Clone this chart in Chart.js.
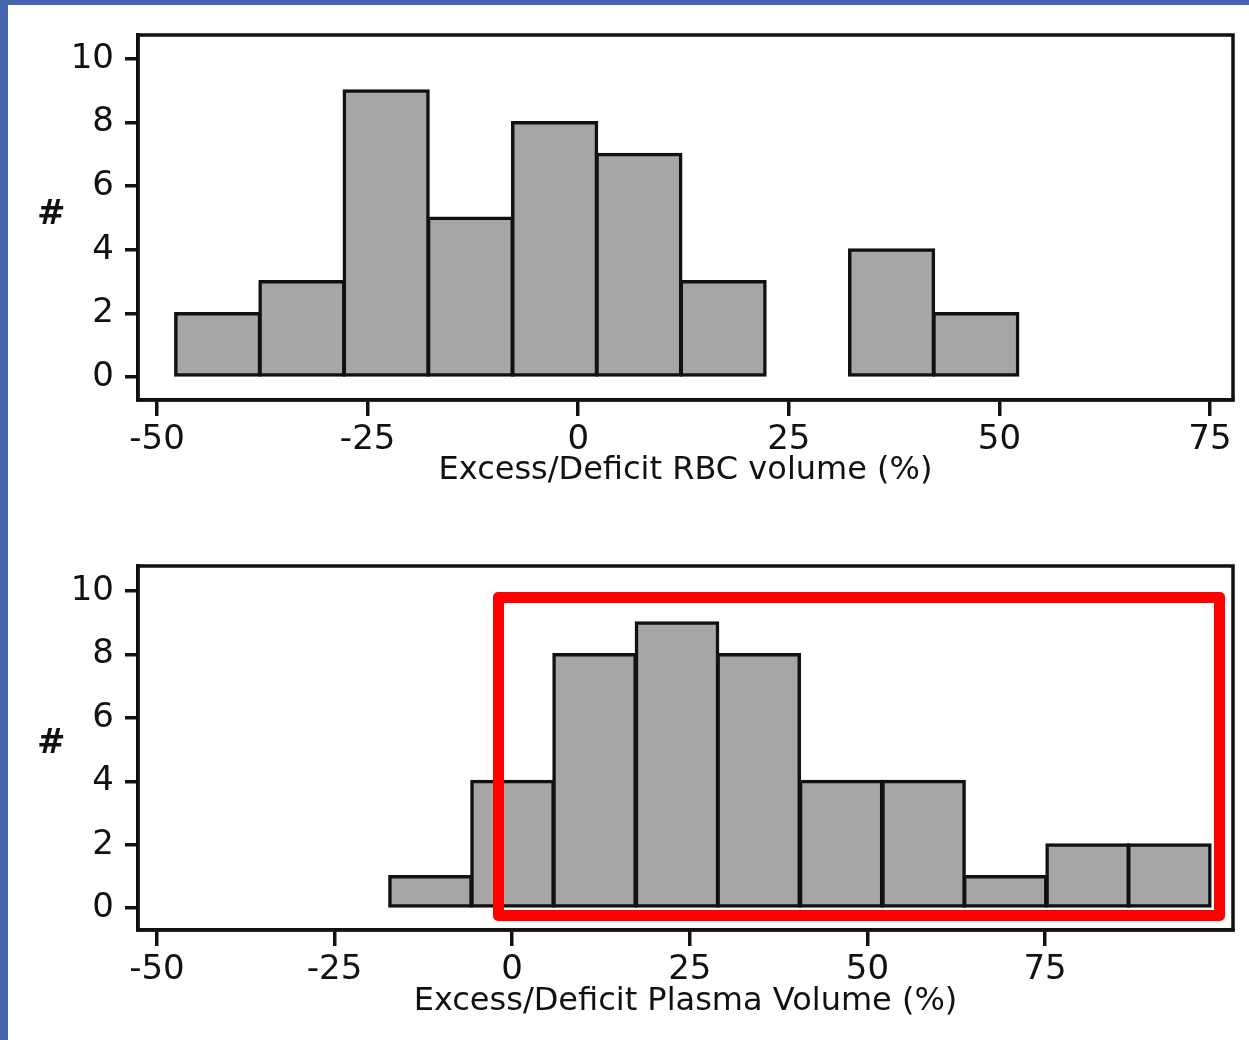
<!DOCTYPE html>
<html><head><meta charset="utf-8">
<script src="https://cdn.jsdelivr.net/npm/chart.js@4.4.1/dist/chart.umd.min.js"></script>
<style>
html,body{margin:0;padding:0;background:#fff;width:1249px;height:1040px;overflow:hidden;position:relative;font-family:"DejaVu Sans",sans-serif}
#blueTop{position:absolute;left:0;top:0;width:1249px;height:5px;background:#4766b0}
#blueLeft{position:absolute;left:0;top:0;width:8px;height:1040px;background:#4766b0}
.wrap{position:absolute;left:0;width:1249px;height:520px}
.hash{position:absolute;font-size:34px;font-weight:bold;color:#111;line-height:34px}
#redBox{position:absolute;left:493px;top:592px;width:732px;height:329px;box-sizing:border-box;border:11px solid #f00;border-radius:5px}
</style></head>
<body>
<div id="blueTop"></div><div id="blueLeft"></div>
<div class="wrap" style="top:0"><canvas id="c1" width="1249" height="520"></canvas></div>
<div class="wrap" style="top:520px"><canvas id="c2" width="1249" height="520"></canvas></div>
<div class="hash" style="left:37px;top:195px">#</div>
<div class="hash" style="left:37px;top:724px">#</div>
<div id="redBox"></div>
<script>
const yTicks = [0, 2, 4, 6, 8, 10];
const rbcXTicks = [-50, -25, 0, 25, 50, 75];
const rbcBinCenters = [-42.8, -32.8, -22.8, -12.8, -2.8, 7.2, 17.2, 37.2, 47.2];
const rbcCounts = [2, 3, 9, 5, 8, 7, 3, 4, 2];
const plasmaXTicks = [-50, -25, 0, 25, 50, 75];
const plasmaBinCenters = [-11.5, 0.05, 11.6, 23.2, 34.7, 46.3, 57.9, 69.4, 81.0, 92.5];
const plasmaCounts = [1, 4, 8, 9, 8, 4, 4, 1, 2, 2];
const rbcTitle = 'Excess/Deficit RBC volume (%)';
const plasmaTitle = 'Excess/Deficit Plasma Volume (%)';

Chart.defaults.font.family = '"DejaVu Sans", sans-serif';
Chart.defaults.color = '#111';

const framePlugin = {
  id: 'frame',
  afterDatasetsDraw(chart) {
    const a = chart.chartArea, ctx = chart.ctx;
    ctx.save();
    ctx.strokeStyle = '#111';
    ctx.lineWidth = 3.5;
    ctx.strokeRect(a.left, a.top, a.right - a.left, a.bottom - a.top);
    ctx.restore();
  }
};

function makeChart(id, centers, counts, xTicks, title, xmin, xmax, ymin, ymax, areaTop, areaBottom, titlePad) {
  new Chart(document.getElementById(id), {
    type: 'bar',
    data: {
      datasets: [{
        data: centers.map((c, i) => ({ x: c, y: counts[i] })),
        backgroundColor: '#a6a6a6',
        borderColor: '#111',
        borderWidth: 3.5,
        inflateAmount: 1.5,
        borderSkipped: false,
        barPercentage: 1,
        categoryPercentage: 1
      }]
    },
    options: {
      responsive: false,
      animation: false,
      layout: { padding: { top: areaTop, right: 16, left: 0, bottom: 0 } },
      plugins: { legend: { display: false }, tooltip: { enabled: false } },
      scales: {
        x: {
          type: 'linear', min: xmin, max: xmax, offset: false,
          afterBuildTicks: s => { s.ticks = xTicks.map(v => ({ value: v })); },
          afterFit: s => { s.height = 520 - areaBottom; },
          grid: { display: true, drawOnChartArea: false, drawTicks: true, tickLength: 16, lineWidth: 3.5, color: '#111', offset: false },
          border: { display: true, width: 3.5, color: '#111' },
          ticks: { font: { size: 34 }, padding: 4, maxRotation: 0, autoSkip: false, color: '#111' },
          title: { display: true, text: title, font: { size: 32 }, padding: { top: 0, bottom: titlePad }, color: '#111' }
        },
        y: {
          type: 'linear', min: ymin, max: ymax,
          afterBuildTicks: s => { s.ticks = yTicks.map(v => ({ value: v })); },
          afterFit: s => { s.width = 138; },
          grid: { display: true, drawOnChartArea: false, drawTicks: true, tickLength: 13, lineWidth: 3.5, color: '#111' },
          border: { display: true, width: 3.5, color: '#111' },
          ticks: { font: { size: 34 }, padding: 11, color: '#111' }
        }
      }
    },
    plugins: [framePlugin]
  });
}

makeChart('c1', rbcBinCenters, rbcCounts, rbcXTicks, rbcTitle, -52.26, 77.73, -0.72, 10.75, 35, 400, 30);
makeChart('c2', plasmaBinCenters, plasmaCounts, plasmaXTicks, plasmaTitle, -52.67, 101.46, -0.69, 10.79, 46, 410, 19);
</script>
</body></html>
